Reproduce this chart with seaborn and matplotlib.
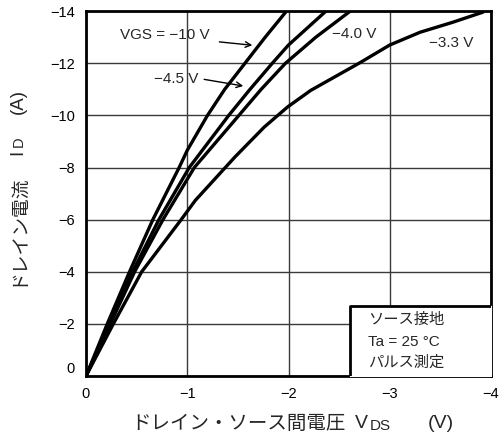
import numpy as np
import pandas as pd
import matplotlib
matplotlib.use('Agg')
import matplotlib.pyplot as plt
import seaborn as sns

# VDS (V) / ID (A), one pair of arrays per VGS curve
vds_10 = [0, -0.21, -0.43, -0.66, -0.92, -1.0, -1.2, -1.37, -1.57, -1.77, -1.98]
id_10 = [0, -2, -4, -6, -8, -8.66, -10, -11, -12, -13, -14]

vds_45 = [0, -0.23, -0.46, -0.72, -1.02, -1.41, -1.62, -1.84, -2.0, -2.37]
id_45 = [0, -2, -4, -6, -8, -10, -11, -12, -12.7, -14]

vds_40 = [0, -0.24, -0.48, -0.76, -1.07, -1.51, -1.73, -1.97, -2.27, -2.61]
id_40 = [0, -2, -4, -6, -8, -10, -11, -12, -13, -14]

vds_33 = [0, -0.27, -0.55, -0.94, -1.08, -1.47, -1.76, -1.99, -2.22, -2.71, -3.0, -3.3, -3.62, -3.92]
id_33 = [0, -2, -4, -6, -6.74, -8.4, -9.55, -10.32, -10.96, -12.03, -12.7, -13.19, -13.57, -13.96]

x_ticks = [0, -1, -2, -3, -4]
y_ticks = [0, -2, -4, -6, -8, -10, -12, -14]

curves = {'-10 V': (vds_10, id_10), '-4.5 V': (vds_45, id_45),
          '-4.0 V': (vds_40, id_40), '-3.3 V': (vds_33, id_33)}
frames = []
for name, (xs, ys) in curves.items():
    frames.append(pd.DataFrame({'VDS': xs, 'ID': ys, 'VGS': name}))
df = pd.concat(frames, ignore_index=True)

sns.set_style('white')
plt.rcParams['font.family'] = ['Liberation Sans', 'Noto Sans CJK JP', 'DejaVu Sans']
plt.rcParams['axes.unicode_minus'] = True

fig = plt.figure(figsize=(5, 4.45), dpi=100)
ax = fig.add_axes([0.172, 0.155, 0.81, 0.82])

ax.set_xlim(0, -4)
ax.set_ylim(0, -14)
ax.set_xticks(x_ticks)
ax.set_yticks(y_ticks)
ax.set_xticklabels(['0' if v == 0 else '\u2212%d' % -v for v in x_ticks])
ax.set_yticklabels(['0' if v == 0 else '\u2212%d' % -v for v in y_ticks])
ax.tick_params(length=0, labelsize=10.5, colors='black', pad=8)
for lbl in ax.get_yticklabels():
    if lbl.get_text() == '0':
        lbl.set_va('bottom')
ax.grid(True, color='#3a3a3a', lw=1.0)
ax.set_axisbelow(True)
for sp in ax.spines.values():
    sp.set_color('black')
    sp.set_linewidth(2.0)
    sp.set_visible(True)

sns.lineplot(data=df, x='VDS', y='ID', hue='VGS', units='VGS', estimator=None,
             palette=['black'] * 4, lw=2.4, legend=False, ax=ax)
ax.set_xlabel('')
ax.set_ylabel('')

# curve labels
ax.text(-0.34, -13.07, 'VGS = \u221210 V', fontsize=11, va='center', ha='left')
ax.annotate('', xy=(-1.67, -12.68), xytext=(-1.29, -12.83),
            arrowprops=dict(arrowstyle='->', color='black', lw=1.0))
ax.text(-0.67, -11.4, '\u22124.5 V', fontsize=11, va='center', ha='left')
ax.annotate('', xy=(-1.58, -11.11), xytext=(-1.14, -11.4),
            arrowprops=dict(arrowstyle='->', color='black', lw=1.0))
ax.text(-2.43, -13.14, '\u22124.0 V', fontsize=11, va='center', ha='left')
ax.text(-3.39, -12.76, '\u22123.3 V', fontsize=11, va='center', ha='left')

# condition box
ax.fill_between([-2.61, -4], [-2.68, -2.68], [0, 0], color='white', zorder=3)
ax.plot([-4, -2.61, -2.61], [-2.68, -2.68, 0], color='black', lw=2.0, zorder=4)
ax.text(-2.79, -2.15, 'ソース接地', fontsize=11, va='center', ha='left', zorder=5)
ax.text(-2.79, -1.3, 'Ta = 25 °C', fontsize=11, va='center', ha='left', zorder=5)
ax.text(-2.79, -0.5, 'パルス測定', fontsize=11, va='center', ha='left', zorder=5)

# axis label pieces, placed by pixel position
def px(x, y):
    return x / 500, 1 - y / 445

fig.text(*px(131, 424), 'ドレイン・ソース間電圧', fontsize=14, ha='left', va='center')
fig.text(*px(355, 424), 'V', fontsize=14, ha='left', va='center')
fig.text(*px(370, 426), 'DS', fontsize=11, ha='left', va='center')
fig.text(*px(428, 424), '(V)', fontsize=14, ha='left', va='center')

fig.text(*px(18, 230), 'ドレイン電流', fontsize=13.5, rotation=90, ha='center', va='center')
fig.text(*px(18, 152), 'I', fontsize=13.5, rotation=90, ha='center', va='center')
fig.text(*px(19, 142), 'D', fontsize=10.5, rotation=90, ha='center', va='center')
fig.text(*px(18, 102), '(A)', fontsize=13.5, rotation=90, ha='center', va='center')

fig.savefig('out.png', dpi=100)
